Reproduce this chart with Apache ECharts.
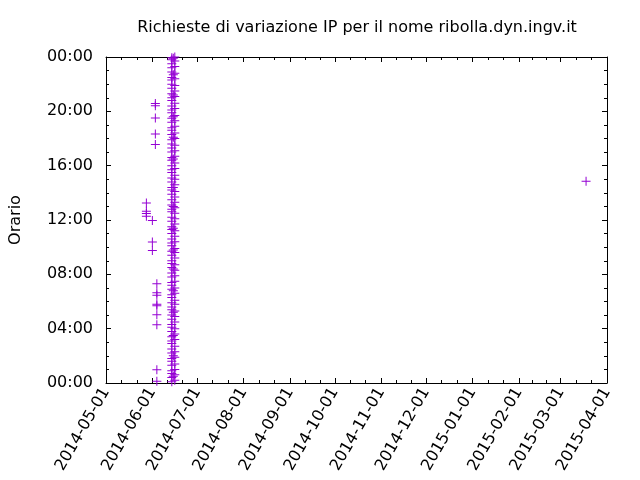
<!DOCTYPE html>
<html><head><meta charset="utf-8">
<script src="https://cdn.jsdelivr.net/npm/echarts@6/dist/echarts.min.js"></script>
<style>html,body{margin:0;padding:0;background:#fff}#c{width:640px;height:480px}</style>
</head><body><div id="c"></div>
<script>
// ---- data ----
const titleText = 'Richieste di variazione IP per il nome ribolla.dyn.ingv.it';
const yName = 'Orario';
const monthTicks = ['2014-05-01','2014-06-01','2014-07-01','2014-08-01','2014-09-01','2014-10-01','2014-11-01','2014-12-01','2015-01-01','2015-02-01','2015-03-01','2015-04-01'];
const hourTicks = [0,4,8,12,16,20,24];

// scattered requests: date and hour-of-day
const scatterDates = ['2014-05-28','2014-05-28','2014-05-28','2014-05-28',
  '2014-06-01','2014-06-01','2014-06-01',
  '2014-06-03','2014-06-03','2014-06-03','2014-06-03','2014-06-03',
  '2014-06-04','2014-06-04','2014-06-04','2014-06-04','2014-06-04','2014-06-04','2014-06-04','2014-06-04','2014-06-04',
  '2015-03-18'];
const scatterHours = [13.25,12.64,12.47,12.27,
  11.97,10.38,9.76,
  20.57,20.42,19.51,18.34,17.55,
  7.31,6.65,6.46,5.80,5.69,5.03,4.29,0.98,0.12,
  14.85];

// dense column of requests
const colDateA = '2014-06-14';
const colHoursA = [0.1,0.4,0.7,0.9,1.3,1.6,1.8,2.2,2.5,2.9,3.1,3.4,3.8,4.1,4.3,4.7,5.0,5.4,5.6,5.9,6.3,6.5,6.9,7.2,7.4,7.8,8.1,8.5,8.8,9.0,9.4,9.7,10.1,10.3,10.6,11.0,11.3,11.5,11.9,12.2,12.6,12.8,13.1,13.5,13.9,14.2,14.4,14.8,15.1,15.5,15.7,16.0,16.4,16.6,17.0,17.3,17.6,17.9,18.3,18.6,18.8,19.2,19.5,19.9,20.1,20.4,20.8,21.0,21.3,21.7,22.0,22.3,22.5,22.9,23.2,23.5,23.8,23.95];
const colDateB = '2014-06-16';
const colHoursB = [0.2,0.6,1.0,1.4,1.9,2.3,2.7,3.2,3.6,4.0,4.5,4.9,5.3,5.8,6.1,6.6,7.0,7.5,7.9,8.3,8.7,9.2,9.6,9.9,10.4,10.8,11.2,11.7,12.1,12.5,12.9,13.3,13.7,14.1,14.6,15.0,15.3,15.8,16.2,16.7,17.1,17.5,18.0,18.4,18.9,19.3,19.7,20.2,20.6,21.1,21.5,21.9,22.4,22.8,23.3,23.7,24.0];
const colDateC = '2014-06-15';
const colHoursC = [0.5,2.0,3.5,5.2,6.8,8.4,9.8,11.4,13.0,14.4,16.5,18.1,19.6,21.2,22.7,23.9];

// ---- helpers ----
function ts(s){const p=s.split('-').map(Number);return new Date(p[0],p[1]-1,p[2]).getTime();}
function pad(n){return (n<10?'0':'')+n;}
function fmtDate(v){const d=new Date(v);return d.getFullYear()+'-'+pad(d.getMonth()+1)+'-'+pad(d.getDate());}

const monthTs = monthTicks.map(ts);
const minorTs = [];
for(let i=0;i<monthTs.length-1;i++){const a=monthTs[i],b=monthTs[i+1];minorTs.push(a+(b-a)/3,a+2*(b-a)/3);}

const data = [];
scatterDates.forEach((d,i)=>data.push([ts(d),scatterHours[i]]));
colHoursA.forEach(h=>data.push([ts(colDateA),h]));
colHoursB.forEach(h=>data.push([ts(colDateB),h]));
colHoursC.forEach(h=>data.push([ts(colDateC),h]));

const FONT = 'DejaVu Sans';
const xMin = monthTs[0], xMax = monthTs[monthTs.length-1];
function xAx(pos, major, labels){
  return {type:'value', position:pos, min:xMin, max:xMax, scale:true,
    axisLine:{show:major, onZero:false, lineStyle:{color:'#000',width:1}},
    axisTick:{show:true, inside:true, length:major?5:3, customValues:major?monthTs:minorTs, lineStyle:{color:'#000'}},
    axisLabel:{show:labels, customValues:monthTs, rotate:60, margin:6, color:'#000', fontFamily:FONT, fontSize:16, formatter:fmtDate},
    splitLine:{show:false}, minorTick:{show:false}};
}
function yAx(pos, labels){
  return {type:'value', position:pos, min:0, max:24, interval:4,
    name:labels?yName:'', nameLocation:'middle', nameGap:82, nameRotate:90,
    nameTextStyle:{color:'#000', fontFamily:FONT, fontSize:16},
    axisLine:{show:true, onZero:false, lineStyle:{color:'#000',width:1}},
    axisTick:{show:true, inside:true, length:5, lineStyle:{color:'#000'}},
    minorTick:{show:true, splitNumber:4, length:3, lineStyle:{color:'#000'}},
    axisLabel:{show:labels, margin:13, color:'#000', fontFamily:FONT, fontSize:16,
      formatter:v=>pad(v%24)+':00'},
    splitLine:{show:false}, minorSplitLine:{show:false}};
}

const chart = echarts.init(document.getElementById('c'), null, {renderer:'canvas'});
chart.setOption({
  animation:false,
  backgroundColor:'#fff',
  title:{text:titleText, left:352, top:15, textAlign:'center',
    textStyle:{fontFamily:FONT, fontSize:16, fontWeight:'normal', color:'#000'}},
  grid:{left:101, right:33, top:57, bottom:97, containLabel:false},
  xAxis:[xAx('bottom',true,true), xAx('bottom',false,false), xAx('top',true,false), xAx('top',false,false)],
  yAxis:[yAx('left',true), yAx('right',false)],
  series:[{type:'scatter', xAxisIndex:0, yAxisIndex:0, data:data,
    symbol:'path://M4,0h1v4h4v1h-4v4h-1v-4h-4v-1h4z', symbolSize:9,
    itemStyle:{color:'#9400d3', opacity:1}, emphasis:{disabled:true}}]
});
</script></body></html>
